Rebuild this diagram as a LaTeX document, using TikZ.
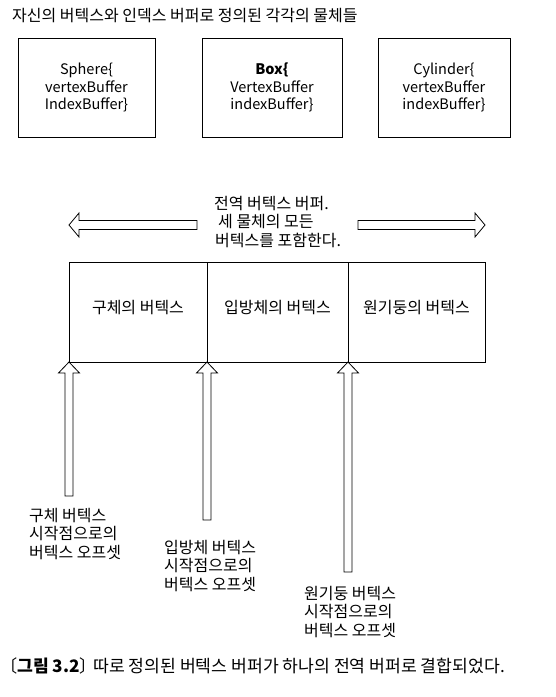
\documentclass[tikz,border=0pt]{standalone}
\usepackage{fontspec}
\setmainfont{Noto Sans CJK KR}
\usetikzlibrary{positioning}

\tikzset{
  blockline/.style={draw, line width=0.8pt, line join=miter},
  objbox/.style={blockline, minimum width=#1, minimum height=99pt, align=center,
    font=\fontsize{14.5}{17.5}\selectfont},
  cellbox/.style={blockline, outer sep=0pt, minimum width=#1, minimum height=100pt,
    text height=10pt, text depth=7pt, font=\fontsize{16}{19}\selectfont},
  note/.style={align=left, inner sep=0pt, anchor=base west,
    font=\fontsize{16}{18.5}\selectfont}
}

% hollow arrow pointing up, tip at #1, shaft length #2
\newcommand\hollowup[2]{%
  \draw[blockline] (#1) -- ++(-10.5,11) -- ++(6.5,0) -- ++(0,#2) -- ++(8,0)
    -- ++(0,-#2) -- ++(6.5,0) -- cycle;}

\begin{document}
\begin{tikzpicture}[x=1pt,y=-1pt]
  \useasboundingbox (0,0) rectangle (556,697);

  % Title
  \node[note] (title) at (12,21.5) {자신의 버텍스와 인덱스 버퍼로 정의된 각각의 물체들};

  % Objects
  \node[objbox=137pt] (sphere) at (86.5,87.5) {Sphere\{\\vertexBuffer\\IndexBuffer\}};
  \node[objbox=140pt] (box) at (272,87.5) {\textbf{Box\{}\\VertexBuffer\\indexBuffer\}};
  \node[objbox=132pt] (cyl) at (444,87.5) {Cylinder\{\\vertexBuffer\\indexBuffer\}};

  % Global buffer (text anchored at the baseline of its last line)
  \node[cellbox=138pt] (cellS) at (138,312) {구체의 버텍스};
  \node[cellbox=141pt, right=0pt of cellS] (cellB) {입방체의 버텍스};
  \node[cellbox=137pt, right=0pt of cellB] (cellC) {원기둥의 버텍스};

  \node[note] (global) at (214,246) {전역 버텍스 버퍼.\\\hspace{4pt}세 물체의 모든\\\hspace{1pt}버텍스를 포함한다.};
  \draw[blockline] ([yshift=37pt]cellS.north west) -- ++(10,-12) -- ++(0,7.5)
    -- ++(118,0) -- ++(0,9) -- ++(-118,0) -- ++(0,7.5) -- cycle;
  \draw[blockline] ([yshift=37pt]cellC.north east) -- ++(-10,-12) -- ++(0,7.5)
    -- ++(-117,0) -- ++(0,9) -- ++(117,0) -- ++(0,7.5) -- cycle;

  % Offsets
  \hollowup{cellS.south west}{123}
  \hollowup{cellS.south east}{147}
  \hollowup{cellB.south east}{199}
  \node[note] (offS) at (29,558) {구체 버텍스\\시작점으로의\\버텍스 오프셋};
  \node[note] (offB) at (164,590) {입방체 버텍스\\시작점으로의\\버텍스 오프셋};
  \node[note] (offC) at (304,636) {원기둥 버텍스\\시작점으로의\\버텍스 오프셋};

  % Caption
  \node[note, font=\fontsize{17.2}{20}\selectfont] (caption) at (0,672)
    {〔\textbf{그림 3.2}〕\kern-0.45em{} 따로 정의된 버텍스 버퍼가 하나의 전역 버퍼로 결합되었다.};
\end{tikzpicture}
\end{document}
